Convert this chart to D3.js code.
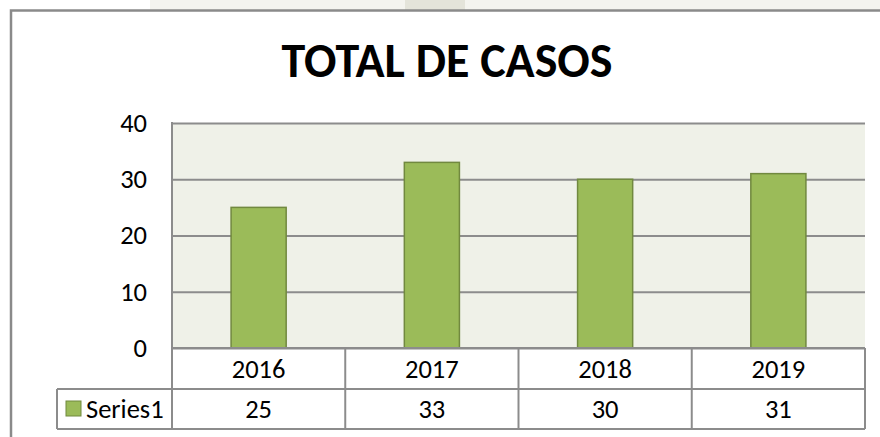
<!doctype html>
<html lang="es">
<head>
<meta charset="utf-8">
<title>Total de casos</title>
<script src="https://cdn.jsdelivr.net/npm/d3@7"></script>
<style>
  html, body { margin: 0; padding: 0; background: #fff; }
  svg { display: block; font-family: Carlito, Calibri, Lato, sans-serif; }
</style>
</head>
<body>
<svg width="880" height="437"></svg>
<script>
  // data
  var title = "TOTAL DE CASOS";
  var categories = ["2016", "2017", "2018", "2019"];
  var values = [25, 33, 30, 31];
  var seriesName = "Series1";
  var yTicks = [0, 10, 20, 30, 40];

  var svg = d3.select("svg");

  var plot = { left: 172, right: 865, top: 123, bottom: 348 };
  var rowH = [41, 40];
  var legendLeft = 57;
  var fontSize = 26.5;

  var x = d3.scaleBand()
    .domain(categories)
    .range([plot.left, plot.right]);

  var y = d3.scaleLinear()
    .domain([0, 40])
    .range([plot.bottom, plot.top]);

  // faint watermark strip above the chart
  svg.append("rect")
    .attr("x", 150).attr("y", 0)
    .attr("width", 730).attr("height", 10)
    .attr("fill", "#f4f4ef");
  svg.append("rect")
    .attr("x", 405).attr("y", 0)
    .attr("width", 60).attr("height", 10)
    .attr("fill", "#e4e4da");

  // outer chart border (only left & top visible)
  svg.append("path")
    .attr("d", "M11,440 V10.5 H885")
    .attr("fill", "none")
    .attr("stroke", "#8a8a8a")
    .attr("stroke-width", 2.5);

  // title
  svg.append("text")
    .attr("x", 447)
    .attr("y", 77)
    .attr("text-anchor", "middle")
    .attr("font-size", 48)
    .attr("font-weight", "bold")
    .attr("fill", "#000")
    .text(title);

  // plot background
  svg.append("rect")
    .attr("x", plot.left).attr("y", plot.top)
    .attr("width", plot.right - plot.left)
    .attr("height", plot.bottom - plot.top)
    .attr("fill", "#eff1e8");

  // gridlines + y labels
  var yAxis = svg.append("g")
    .attr("transform", "translate(" + plot.left + ",0)")
    .call(d3.axisLeft(y)
      .tickValues(yTicks)
      .tickSize(-(plot.right - plot.left))
      .tickPadding(25));
  yAxis.select(".domain").remove();
  yAxis.selectAll(".tick line")
    .attr("stroke", "#8c8c8c")
    .attr("stroke-width", 2);
  yAxis.selectAll(".tick text")
    .attr("font-size", fontSize)
    .attr("font-family", "Carlito, Calibri, Lato, sans-serif")
    .attr("fill", "#000");

  // left plot edge
  svg.append("line")
    .attr("x1", plot.left).attr("x2", plot.left)
    .attr("y1", plot.top - 1).attr("y2", plot.bottom)
    .attr("stroke", "#8c8c8c")
    .attr("stroke-width", 2);

  // bars
  var barW = x.bandwidth() * 0.318;
  svg.append("g")
    .selectAll("rect")
    .data(values)
    .enter()
    .append("rect")
    .attr("x", function (d, i) { return x(categories[i]) + (x.bandwidth() - barW) / 2; })
    .attr("y", function (d) { return y(d); })
    .attr("width", barW)
    .attr("height", function (d) { return y(0) - y(d); })
    .attr("fill", "#9bbb59")
    .attr("stroke", "#71893f")
    .attr("stroke-width", 1.5);

  // data table
  var table = svg.append("g");
  var row1Top = plot.bottom, row2Top = plot.bottom + rowH[0], tableBottom = row2Top + rowH[1];
  var lineStyle = function (sel) {
    sel.attr("stroke", "#8c8c8c").attr("stroke-width", 2).attr("fill", "none");
  };

  // horizontal lines
  table.append("line").call(lineStyle)
    .attr("x1", plot.left).attr("x2", plot.right).attr("y1", row1Top).attr("y2", row1Top);
  table.append("line").call(lineStyle)
    .attr("x1", legendLeft).attr("x2", plot.right).attr("y1", row2Top).attr("y2", row2Top);
  table.append("line").call(lineStyle)
    .attr("x1", legendLeft).attr("x2", plot.right).attr("y1", tableBottom).attr("y2", tableBottom);

  // vertical lines
  table.append("line").call(lineStyle)
    .attr("x1", legendLeft).attr("x2", legendLeft).attr("y1", row2Top).attr("y2", tableBottom);
  var edges = categories.map(function (c) { return x(c); }).concat([plot.right]);
  table.selectAll("line.col")
    .data(edges)
    .enter()
    .append("line")
    .attr("class", "col")
    .call(lineStyle)
    .attr("x1", function (d) { return d; })
    .attr("x2", function (d) { return d; })
    .attr("y1", row1Top)
    .attr("y2", tableBottom);

  // category labels
  table.selectAll("text.cat")
    .data(categories)
    .enter()
    .append("text")
    .attr("class", "cat")
    .attr("x", function (d) { return x(d) + x.bandwidth() / 2; })
    .attr("y", row1Top + rowH[0] / 2)
    .attr("dy", "0.35em")
    .attr("text-anchor", "middle")
    .attr("font-size", fontSize)
    .text(function (d) { return d; });

  // value labels
  table.selectAll("text.val")
    .data(values)
    .enter()
    .append("text")
    .attr("class", "val")
    .attr("x", function (d, i) { return x(categories[i]) + x.bandwidth() / 2; })
    .attr("y", row2Top + rowH[1] / 2)
    .attr("dy", "0.35em")
    .attr("text-anchor", "middle")
    .attr("font-size", fontSize)
    .text(function (d) { return d; });

  // legend key + series name
  table.append("rect")
    .attr("x", 66).attr("y", row2Top + 12)
    .attr("width", 15).attr("height", 15)
    .attr("fill", "#9bbb59")
    .attr("stroke", "#71893f")
    .attr("stroke-width", 1);
  table.append("text")
    .attr("x", 86)
    .attr("y", row2Top + rowH[1] / 2)
    .attr("dy", "0.35em")
    .attr("font-size", fontSize)
    .text(seriesName);
</script>
</body>
</html>
